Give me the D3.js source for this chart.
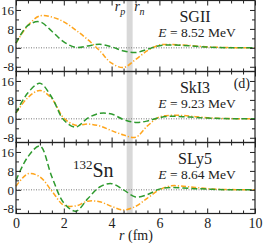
<!DOCTYPE html>
<html>
<head>
<meta charset="utf-8">
<script src="https://cdn.jsdelivr.net/npm/d3@7"></script>
<style>
  body { margin: 0; background: #fff; }
  svg text { font-family: "Liberation Serif", "DejaVu Serif", "Times New Roman", serif; fill: #222; }
  .frame { fill: none; stroke: #222; stroke-width: 1.2; }
  .axis path { display: none; }
  .axis line { stroke: #222; stroke-width: 1; }
  .zero { stroke: #777; stroke-width: 1; stroke-dasharray: 1,1.5; }
</style>
</head>
<body>
<div id="chart"></div>
<script>
// radial grid (fm) shared by all curves
const r_grid = [0, 0.5, 1, 1.5, 2, 2.5, 3, 3.5, 4, 4.5, 5, 5.5, 6, 6.5, 7, 7.5, 8, 8.5, 9, 9.5, 10];

// one pair of curves per force
const sgii_green = [2, 9.5, 11, 7, 2.5, 0.2, 0.8, 1.5, 0.4, -1.3, -2.0, -0.6, 0.9, 1.2, 1.0, 0.7, 0.3, 0.1, 0, 0, 0];
const sgii_orange = [2, 9.5, 13.5, 13, 11, 7.5, 3.5, -1.2, -6.5, -8.3, -5, -1.2, 1.2, 1.4, 1.2, 0.8, 0.4, 0.2, 0.1, 0, 0];
const ski3_green = [2.5, 11, 15, 9, -0.5, -3.5, 0.3, 2.3, 2.0, -0.3, -1.5, -0.9, 0.5, 1.1, 0.9, 0.6, 0.3, 0.15, 0.05, 0, 0];
const ski3_orange = [2.5, 9, 12, 8.5, 0.3, -2.7, -2.2, -3, -5, -6.8, -7.8, -3, 0.8, 1.5, 1.4, 0.9, 0.5, 0.2, 0.1, 0, 0];
const sly5_green = [4, 14, 18.5, 5.5, -5.5, -9, -3.8, 1.2, 2.6, 0, -3, -2, 0.3, 1.0, 0.8, 0.5, 0.3, 0.1, 0, 0, 0];
const sly5_orange = [1.5, 6.8, 5.5, -0.5, -6.5, -6.8, -4.8, -5, -7, -8.5, -7, -3.5, 0, 1.7, 1.5, 1.0, 0.5, 0.2, 0.1, 0, 0];

const force_names = ["SGII", "SkI3", "SLy5"];
const energies = ["8.52", "9.23", "8.64"];
const green_series = [sgii_green, ski3_green, sly5_green];
const orange_series = [sgii_orange, ski3_orange, sly5_orange];

const x_ticks = [0, 2, 4, 6, 8, 10];
const x_minor = [0.5, 1, 1.5, 2.5, 3, 3.5, 4.5, 5, 5.5, 6.5, 7, 7.5, 8.5, 9, 9.5];
const y_ticks = [-8, 0, 8, 16];
const y_minor = [-4, 4, 12];
const y_domain = [-10, 20];
const r_p = 4.63, r_n = 4.88;

const WIDTH = 263,
  HEIGHT = 243,
  PLOT_LEFT = 16,
  PLOT_RIGHT = 255,
  PANEL_TOP = 0.5,
  PANEL_HEIGHT = 71,
  GREEN = "#2e9a2e",
  ORANGE = "#ffa51c",
  SERIF = "'Liberation Serif', 'DejaVu Serif', 'Times New Roman', serif";

var svg = d3
  .select("#chart")
  .append("svg")
  .attr("width", WIDTH)
  .attr("height", HEIGHT)
  .attr("font-family", SERIF);

var x = d3.scaleLinear().domain([0, 10]).range([PLOT_LEFT, PLOT_RIGHT]);

// shaded strip between the proton and neutron radii
svg
  .append("rect")
  .attr("x", x(r_p))
  .attr("y", PANEL_TOP)
  .attr("width", x(r_n) - x(r_p))
  .attr("height", PANEL_HEIGHT * 3)
  .attr("fill", "#d8d8d8");

function add_axis(g, axis, tx, ty) {
  var a = g.append("g")
    .attr("class", "axis")
    .attr("transform", "translate(" + tx + "," + ty + ")")
    .call(axis)
    .attr("font-family", SERIF);
  return a;
}

function draw_panel(i) {
  var top = PANEL_TOP + i * PANEL_HEIGHT;
  var y = d3.scaleLinear().domain(y_domain).range([top + PANEL_HEIGHT, top]);
  var g = svg.append("g");

  g.append("line")
    .attr("class", "zero")
    .attr("x1", PLOT_LEFT)
    .attr("x2", PLOT_RIGHT)
    .attr("y1", y(0))
    .attr("y2", y(0));

  var line = d3
    .line()
    .x(function(d, j) { return x(r_grid[j]); })
    .y(function(d) { return y(d); })
    .curve(d3.curveCatmullRom);

  g.append("path")
    .datum(orange_series[i])
    .attr("d", line)
    .attr("fill", "none")
    .attr("stroke", ORANGE)
    .attr("stroke-width", 1.5)
    .attr("stroke-dasharray", "5,2,1.2,2");

  g.append("path")
    .datum(green_series[i])
    .attr("d", line)
    .attr("fill", "none")
    .attr("stroke", GREEN)
    .attr("stroke-width", 1.5)
    .attr("stroke-dasharray", "6,3");

  // inward ticks on all four sides
  var is_bottom = i === 2;
  var fmt = function(d) { return String(d); };
  var bottom = top + PANEL_HEIGHT;
  add_axis(g, d3.axisBottom(x).tickValues(x_minor).tickSize(-3).tickFormat(""), 0, bottom);
  add_axis(g, d3.axisBottom(x).tickValues(x_ticks).tickSize(-5).tickPadding(5)
    .tickFormat(is_bottom ? fmt : ""), 0, bottom)
    .selectAll("text").attr("font-size", 14);
  add_axis(g, d3.axisTop(x).tickValues(x_minor).tickSize(-3).tickFormat(""), 0, top);
  add_axis(g, d3.axisTop(x).tickValues(x_ticks).tickSize(-5).tickFormat(""), 0, top);

  add_axis(g, d3.axisLeft(y).tickValues(y_minor).tickSize(-3).tickFormat(""), PLOT_LEFT, 0);
  add_axis(g, d3.axisLeft(y).tickValues(y_ticks).tickSize(-5).tickPadding(2).tickFormat(fmt), PLOT_LEFT, 0)
    .selectAll("text").attr("font-size", 13);
  add_axis(g, d3.axisRight(y).tickValues(y_minor).tickSize(-3).tickFormat(""), PLOT_RIGHT, 0);
  add_axis(g, d3.axisRight(y).tickValues(y_ticks).tickSize(-5).tickFormat(""), PLOT_RIGHT, 0);

  g.append("rect")
    .attr("class", "frame")
    .attr("x", PLOT_LEFT)
    .attr("y", top)
    .attr("width", PLOT_RIGHT - PLOT_LEFT)
    .attr("height", PANEL_HEIGHT);

  // force name and energy
  g.append("text")
    .attr("x", 195)
    .attr("y", top + 21)
    .attr("text-anchor", "middle")
    .attr("font-size", 16)
    .text(force_names[i]);

  var e = g.append("text")
    .attr("x", 197)
    .attr("y", top + 36)
    .attr("text-anchor", "middle")
    .attr("font-size", 13.5);
  e.append("tspan").attr("font-style", "italic").text("E");
  e.append("tspan").text(" = " + energies[i] + " MeV");
}

[0, 1, 2].forEach(draw_panel);

// panel tag and nucleus label
svg.append("text")
  .attr("x", 250)
  .attr("y", PANEL_TOP + PANEL_HEIGHT + 16)
  .attr("text-anchor", "end")
  .attr("font-size", 14)
  .text("(d)");

var nuc = svg.append("text")
  .attr("x", 73)
  .attr("y", 177)
  .attr("font-size", 20);
nuc.append("tspan").attr("font-size", 13).attr("dy", -8).text("132");
nuc.append("tspan").attr("dy", 8).text("Sn");

// radius labels above the strip
function radius_label(xpos, anchor, sub) {
  var t = svg.append("text")
    .attr("x", xpos)
    .attr("y", 11)
    .attr("text-anchor", anchor)
    .attr("font-size", 14)
    .attr("font-style", "italic");
  t.append("tspan").text("r");
  t.append("tspan").attr("font-size", 10).attr("dy", 4).text(sub);
}
radius_label(x(r_p) - 1.5, "end", "p");
radius_label(x(r_n) + 1.5, "start", "n");

// x axis title
var xt = svg.append("text")
  .attr("x", 136)
  .attr("y", 240)
  .attr("text-anchor", "middle")
  .attr("font-size", 14);
xt.append("tspan").attr("font-style", "italic").text("r");
xt.append("tspan").text(" (fm)");
</script>
</body>
</html>
